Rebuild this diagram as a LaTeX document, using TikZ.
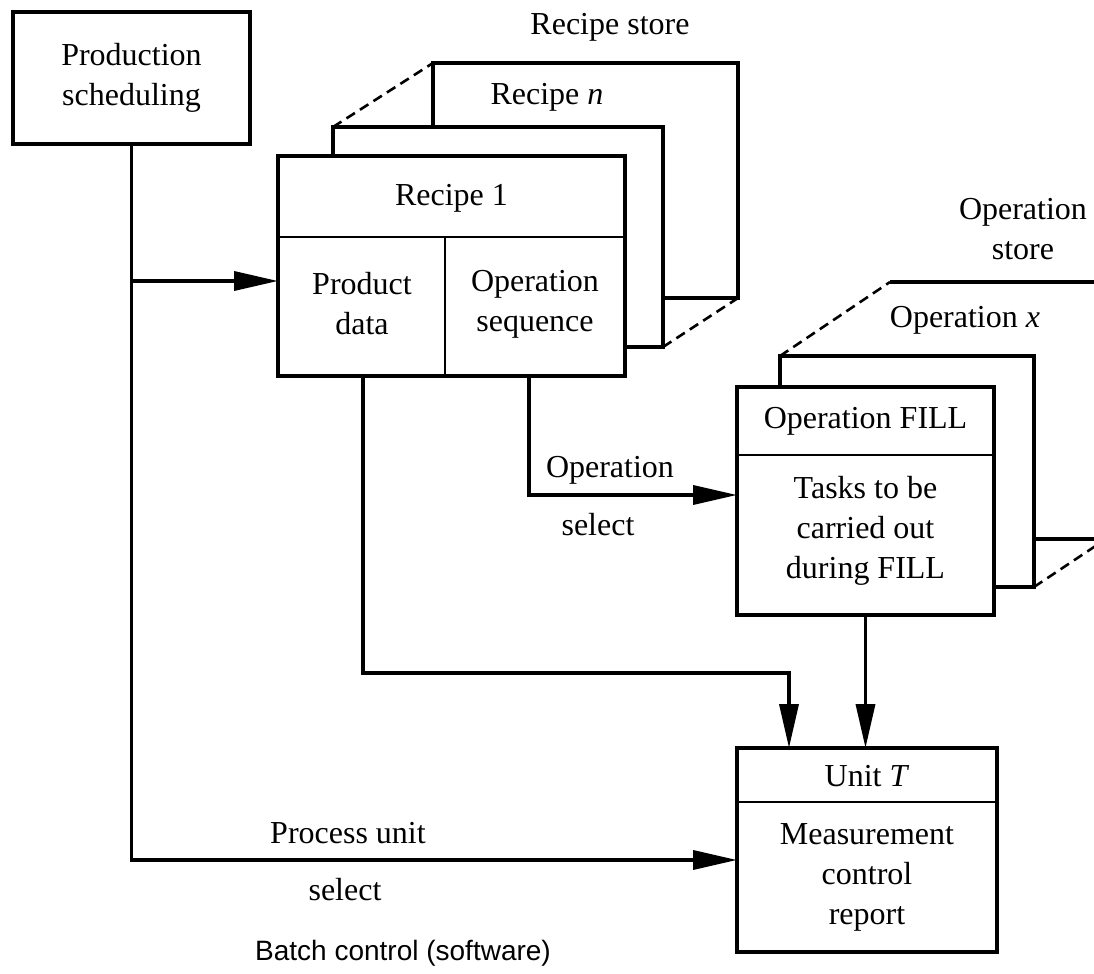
\documentclass[tikz,border=0pt]{standalone}
\usepackage{fontspec}
\setmainfont{Liberation Serif}
\setsansfont{Liberation Sans}
\usetikzlibrary{arrows.meta}
\begin{document}
\begin{tikzpicture}[x=0.5pt,y=-0.5pt,
  frame/.style={draw,line width=1.8pt,inner sep=0pt,outer sep=0pt},
  edge/.style={line width=1.8pt},
  divider/.style={line width=1.4pt},
  store/.style={line width=1.8pt},
  ghost/.style={line width=1.3pt,dash pattern=on 5pt off 3pt},
  flow/.style={line width=1.8pt,-{Triangle[length=22pt,width=9.5pt]}},
  lbl/.style={inner sep=0pt,align=center,font=\fontsize{16pt}{20pt}\selectfont},
  ]
\clip (0,0) rectangle (1094,974);

% helper levels
\coordinate (r1head)   at (0,237);
\coordinate (r1split)  at (445,0);
\coordinate (fillhead) at (0,455);
\coordinate (unithead) at (0,802);
\coordinate (recipein) at (0,281);
\coordinate (unitin)   at (0,860);
\coordinate (pdbend)   at (363,673);
\coordinate (pdin)     at (789,0);
\coordinate (osbend)   at (529,495);

% production scheduling
\node[frame,lbl,minimum width=118.5pt,minimum height=66pt] (ps) at (131.5,78)
  {Production\\scheduling};

% recipe store: stacked sheets behind recipe 1
\draw[store] (433,127) -- (433,63) -- (738,63) -- (738,298) -- (663,298);
\draw[store] (333,156) -- (333,127) -- (663,127) -- (663,347) -- (625,347);
\draw[ghost] (333,127) -- (433,63);
\draw[ghost] (663,347) -- (738,298);
\node[frame,minimum width=173.5pt,minimum height=110pt] (r1) at (451.5,266) {};
\draw[divider] (r1.west |- r1head) -- (r1.east |- r1head);
\draw[divider] (r1split |- r1head) -- (r1split |- r1.south);

\node[lbl] (rstore) at (610,27) {Recipe store};
\node[lbl] (rn) at (547,97) {Recipe \textit{n}};
\node[lbl] (r1t) at (451.5,198) {Recipe 1};
\node[lbl] (pd) at (362,304) {Product\\data};
\node[lbl] (os) at (535,304) {Operation\\sequence};

% operation store: stacked sheets behind operation FILL
\draw[store] (890,282) -- (1100,282);
\draw[store] (1034,539) -- (1100,539);
\draw[store] (780,387) -- (780,356) -- (1034,356) -- (1034,587) -- (994,587);
\draw[ghost] (780,356) -- (890,282);
\draw[ghost] (1034,587) -- (1100,543);
\node[frame,minimum width=128.5pt,minimum height=114pt] (fill) at (865.5,501) {};
\draw[divider] (fill.west |- fillhead) -- (fill.east |- fillhead);

\node[lbl] (ostore) at (1023,229) {Operation\\store};
\node[lbl] (opx) at (965,320) {Operation \textit{x}};
\node[lbl] (fillt) at (865.5,421) {Operation FILL};
\node[lbl] (tasks) at (865.5,531) {Tasks to be\\carried out\\during FILL};

% process unit
\node[frame,minimum width=130pt,minimum height=102pt] (unit) at (867,850) {};
\draw[divider] (unit.west |- unithead) -- (unit.east |- unithead);
\node[lbl] (unitt) at (867,776) {Unit \textit{T}};
\node[lbl] (meas) at (867,877) {Measurement\\control\\report};

% connectors
\draw[flow] (ps.south) -- (ps.south |- unitin) -- (unit.west |- unitin);
\draw[flow] (ps.south |- recipein) -- (r1.west |- recipein);
\draw[flow] (r1.south -| pdbend) -- (pdbend) -- (pdin |- pdbend) -- (pdin |- unit.north);
\draw[flow] (r1.south -| osbend) -- (osbend) -- (osbend -| fill.west);
\draw[flow] (fill.south) -- (fill.south |- unit.north);

% connector labels
\node[lbl] (osel1) at (610,470) {Operation};
\node[lbl] (osel2) at (598,525) {select};
\node[lbl] (pu1) at (348,833) {Process unit};
\node[lbl] (pu2) at (345,890) {select};
\node[lbl,font=\sffamily\fontsize{14pt}{17pt}\selectfont] (batch) at (403,953)
  {Batch control (software)};
\end{tikzpicture}
\end{document}
